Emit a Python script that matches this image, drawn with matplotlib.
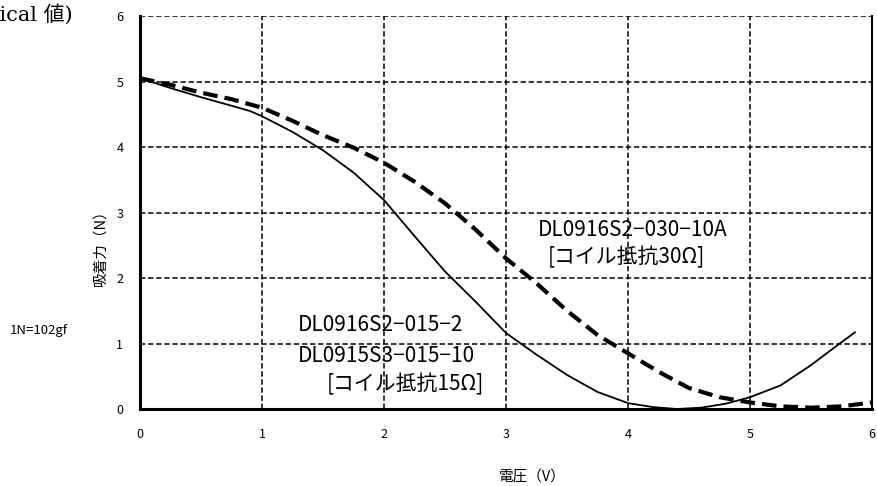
import matplotlib
matplotlib.use("Agg")
import matplotlib.pyplot as plt

plt.rcParams['font.family'] = ['Noto Sans CJK JP', 'DejaVu Sans']

# Data
x_15 = [0, 0.25, 0.5, 0.75, 0.9, 1.0, 1.25, 1.5, 1.75, 2.0, 2.25, 2.5, 2.75, 3.0,
        3.25, 3.5, 3.75, 4.0, 4.2, 4.4, 4.6, 4.8, 5.0, 5.25, 5.5, 5.75, 5.86]
y_15 = [5.05, 4.9, 4.76, 4.63, 4.55, 4.47, 4.23, 3.95, 3.61, 3.19, 2.64, 2.1, 1.64, 1.16,
        0.83, 0.52, 0.26, 0.09, 0.03, 0.0, 0.02, 0.08, 0.18, 0.36, 0.67, 1.02, 1.17]

x_30 = [0, 0.25, 0.5, 0.75, 1.0, 1.25, 1.5, 1.75, 2.0, 2.25, 2.5, 2.75, 3.0, 3.25,
        3.5, 3.75, 4.0, 4.25, 4.5, 4.75, 5.0, 5.25, 5.5, 5.75, 6.0]
y_30 = [5.05, 4.95, 4.83, 4.73, 4.6, 4.4, 4.18, 3.99, 3.76, 3.47, 3.14, 2.74, 2.3, 1.92,
        1.5, 1.13, 0.85, 0.57, 0.32, 0.18, 0.1, 0.04, 0.02, 0.04, 0.1]

x_ticks = [0, 1, 2, 3, 4, 5, 6]
y_ticks = [0, 1, 2, 3, 4, 5, 6]

fig = plt.figure(figsize=(8.77, 4.86), dpi=100)
ax = fig.add_axes([140/877, 1-409/486, 732/877, 393/486])

ax.set_xlim(0, 6)
ax.set_ylim(0, 6)
ax.set_xticks(x_ticks)
ax.set_yticks(y_ticks)
ax.tick_params(length=0, labelsize=9, pad=12)
ax.tick_params(axis='x', pad=14)
ax.grid(True, color='black', linestyle=(0, (3.5, 1.8)), linewidth=1.1)
ax.set_axisbelow(True)

ax.spines['top'].set_visible(False)
ax.spines['left'].set_linewidth(2.2)
ax.spines['bottom'].set_linewidth(2.2)
ax.spines['right'].set_linewidth(1.5)

ax.plot(x_15, y_15, color='black', linewidth=1.3, zorder=3)
ax.plot(x_30, y_30, color='black', linewidth=3.0, linestyle=(0, (3.5, 1.7)), zorder=3)

fs = 15
ax.text(4.04, 2.73, "DL0916S2−030−10A", fontsize=fs, ha='center', va='center')
ax.text(3.99, 2.31, "[コイル抵抗30Ω]", fontsize=fs, ha='center', va='center')
ax.text(1.29, 1.28, "DL0916S2−015−2", fontsize=fs, ha='left', va='center')
ax.text(1.29, 0.81, "DL0915S3−015−10", fontsize=fs, ha='left', va='center')
ax.text(1.53, 0.37, "[コイル抵抗15Ω]", fontsize=fs, ha='left', va='center')

fig.text(532/877, 1-477/486, "電圧（V）", fontsize=10.5, ha='center', va='center')
fig.text(100/877, 1-244/486, "吸着力（N）", fontsize=10.5, ha='center', va='center', rotation=90)
fig.text(10/877, 1-330/486, "1N=102gf", fontsize=9.5, ha='left', va='center')
fig.text(73/877, 1-14/486, "(Typical 値)", fontsize=15, ha='right', va='center',
         family=['DejaVu Serif', 'Noto Sans CJK JP'])

fig.savefig("out.png", dpi=100)
